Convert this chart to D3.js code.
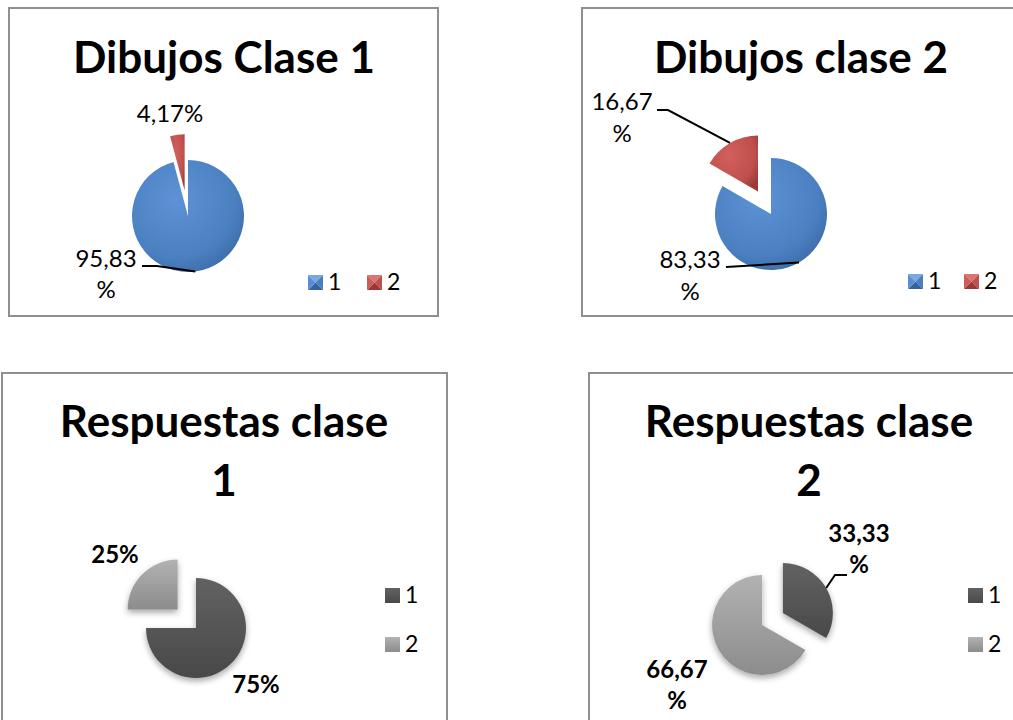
<!DOCTYPE html>
<meta charset="utf-8">
<style>
body { margin: 0; background: #fff; }
svg { display: block; }
text { font-family: Lato, "Open Sans", sans-serif; fill: #000; }
.title { font-size: 44px; font-weight: bold; }
.label { font-size: 24px; }
.legend text { font-size: 23px; }
.box { fill: #fff; stroke: #8f8f8f; stroke-width: 2px; }
.leader { fill: none; stroke: #000; stroke-width: 2px; }
</style>
<body>
<script src="https://cdn.jsdelivr.net/npm/d3@7"></script>
<script>
// data
var categories = ["1", "2"];
var dibujosClase1 = [95.83, 4.17];
var dibujosClase2 = [83.33, 16.67];
var respuestasClase1 = [75, 25];
var respuestasClase2 = [33.33, 66.67];
var titles = [["Dibujos Clase 1"], ["Dibujos clase 2"], ["Respuestas clase", "1"], ["Respuestas clase", "2"]];

var width = 1013, height = 720;

var svg = d3.select("body").append("svg")
    .attr("width", width)
    .attr("height", height);

var defs = svg.append("defs");

function radial(id, c0, c1, c2) {
  var g = defs.append("radialGradient").attr("id", id)
      .attr("cx", "40%").attr("cy", "35%").attr("r", "75%");
  g.append("stop").attr("offset", "0%").attr("stop-color", c0);
  g.append("stop").attr("offset", "70%").attr("stop-color", c1);
  g.append("stop").attr("offset", "100%").attr("stop-color", c2);
}
function linear(id, c0, c1) {
  var g = defs.append("linearGradient").attr("id", id)
      .attr("x1", 0).attr("y1", 0).attr("x2", 0).attr("y2", 1);
  g.append("stop").attr("offset", "0%").attr("stop-color", c0);
  g.append("stop").attr("offset", "100%").attr("stop-color", c1);
}
radial("blue", "#5d92d6", "#4a7fc0", "#3a68a3");
radial("red", "#d2605c", "#c0504d", "#9c3a38");
linear("dark", "#626262", "#494949");
linear("light", "#b2b2b2", "#8c8c8c");

var shadow = defs.append("filter").attr("id", "shadow")
    .attr("x", "-30%").attr("y", "-30%").attr("width", "160%").attr("height", "160%");
shadow.append("feDropShadow").attr("dx", 0).attr("dy", 3)
    .attr("stdDeviation", 3).attr("flood-color", "#000").attr("flood-opacity", 0.35);

var fmt = function(v) { return String(v).replace(".", ",") + "%"; };

// bevel shades for the legend keys of the blue/red charts: top, right, bottom, left
var bevel = [
  ["#7aa8e4", "#4a7fc0", "#3563a0", "#5a8ed2"],
  ["#dc7470", "#c0504d", "#9a3836", "#cc5c58"]
];

var charts = [
  { values: dibujosClase1, title: titles[0],
    box: [9, 8, 429, 308], titleX: 224, titleY: 73,
    cx: 188, cy: 216, r: 56, explode: [0, 26],
    fills: ["url(#blue)", "url(#red)"], bevel: true,
    bold: false, lineGap: 31,
    labels: [
      { dx: -82, dy: 51, split: true, leader: [[-31, 50], [-46, 50]] },
      { dx: -18, dy: -94, split: false }
    ],
    legend: { x: 308, y: 275, step: 59, horizontal: true } },
  { values: dibujosClase2, title: titles[1],
    box: [582, 8, 432, 308], titleX: 801, titleY: 73,
    cx: 771, cy: 214, r: 56, explode: [0, 26],
    fills: ["url(#blue)", "url(#red)"], bevel: true,
    bold: false, lineGap: 32,
    labels: [
      { dx: -81, dy: 54, split: true, leader: [[-45, 53]] },
      { dx: -149, dy: -104, split: true, leader: [[-103, -104], [-114, -104]] }
    ],
    legend: { x: 908, y: 274, step: 56, horizontal: true } },
  { values: respuestasClase1, title: titles[2],
    box: [2, 373, 445, 360], titleX: 224, titleY: 437,
    cx: 196, cy: 628, r: 50, explode: [0, 26], shadow: true,
    fills: ["url(#dark)", "url(#light)"],
    bold: true, lineGap: 30,
    labels: [
      { dx: 60, dy: 65, split: false },
      { dx: -81, dy: -65, split: false }
    ],
    legend: { x: 385, y: 588, step: 49, horizontal: false } },
  { values: respuestasClase2, title: titles[3],
    box: [589, 373, 440, 360], titleX: 809, titleY: 437,
    cx: 772.5, cy: 619, r: 50, explode: [12, 12], shadow: true,
    fills: ["url(#dark)", "url(#light)"],
    bold: true, lineGap: 31,
    labels: [
      { dx: 86.5, dy: -77, split: true, leader: [[62.5, -44], [74.5, -44]] },
      { dx: -95.5, dy: 59, split: true }
    ],
    legend: { x: 968, y: 588, step: 49, horizontal: false } }
];

var pie = d3.pie().sort(null).value(function(d) { return d; });

charts.forEach(function(c) {
  var g = svg.append("g");

  g.append("rect").attr("class", "box")
    .attr("x", c.box[0]).attr("y", c.box[1])
    .attr("width", c.box[2]).attr("height", c.box[3]);

  g.append("text").attr("class", "title")
    .attr("text-anchor", "middle")
    .selectAll("tspan")
    .data(c.title)
    .enter().append("tspan")
    .attr("x", c.titleX)
    .attr("y", function(d, i) { return c.titleY + i * 59; })
    .text(function(d) { return d; });

  var arc = d3.arc().innerRadius(0).outerRadius(c.r);
  var rim = d3.arc().innerRadius(c.r).outerRadius(c.r);
  var arcs = pie(c.values);

  function shift(d, i) {
    var a = (d.startAngle + d.endAngle) / 2;
    return [c.cx + c.explode[i] * Math.sin(a), c.cy - c.explode[i] * Math.cos(a)];
  }

  var slices = g.append("g");
  if (c.shadow) slices.attr("filter", "url(#shadow)");
  slices.selectAll("path")
    .data(arcs)
    .enter().append("path")
    .attr("transform", function(d, i) { return "translate(" + shift(d, i) + ")"; })
    .attr("d", arc)
    .style("fill", function(d, i) { return c.fills[i]; });

  // leader lines and data labels
  arcs.forEach(function(d, i) {
    var lab = c.labels[i];
    var o = shift(d, i);
    var p = rim.centroid(d);
    if (lab.leader) {
      var pts = [[o[0] + p[0], o[1] + p[1]]].concat(lab.leader.map(function(q) {
        return [c.cx + q[0], c.cy + q[1]];
      }));
      g.append("path").attr("class", "leader").attr("d", d3.line()(pts));
    }
    var txt = fmt(d.data);
    var lines = lab.split ? [txt.slice(0, -1), "%"] : [txt];
    g.append("text").attr("class", "label")
      .attr("text-anchor", "middle")
      .style("font-weight", c.bold ? "bold" : "normal")
      .selectAll("tspan")
      .data(lines)
      .enter().append("tspan")
      .attr("x", c.cx + lab.dx)
      .attr("y", function(t, k) { return c.cy + lab.dy + k * c.lineGap; })
      .text(function(t) { return t; });
  });

  // legend
  var L = c.legend, s = 15;
  var items = g.append("g").attr("class", "legend")
    .selectAll("g")
    .data(categories)
    .enter().append("g")
    .attr("transform", function(d, i) {
      return L.horizontal ? "translate(" + (L.x + i * L.step) + "," + L.y + ")"
                          : "translate(" + L.x + "," + (L.y + i * L.step) + ")";
    });
  if (c.bevel) {
    var tri = [
      [[0, 0], [s, 0], [s / 2, s / 2]],
      [[s, 0], [s, s], [s / 2, s / 2]],
      [[s, s], [0, s], [s / 2, s / 2]],
      [[0, s], [0, 0], [s / 2, s / 2]]
    ];
    items.each(function(d, i) {
      d3.select(this).selectAll("path")
        .data(tri)
        .enter().append("path")
        .attr("d", function(t) { return d3.line()(t) + "Z"; })
        .style("fill", function(t, k) { return bevel[i][k]; });
    });
  } else {
    items.append("rect").attr("width", s).attr("height", s)
      .style("fill", function(d, i) { return c.fills[i]; });
  }
  items.append("text").attr("x", 20).attr("y", 15).text(function(d) { return d; });
});
</script>
